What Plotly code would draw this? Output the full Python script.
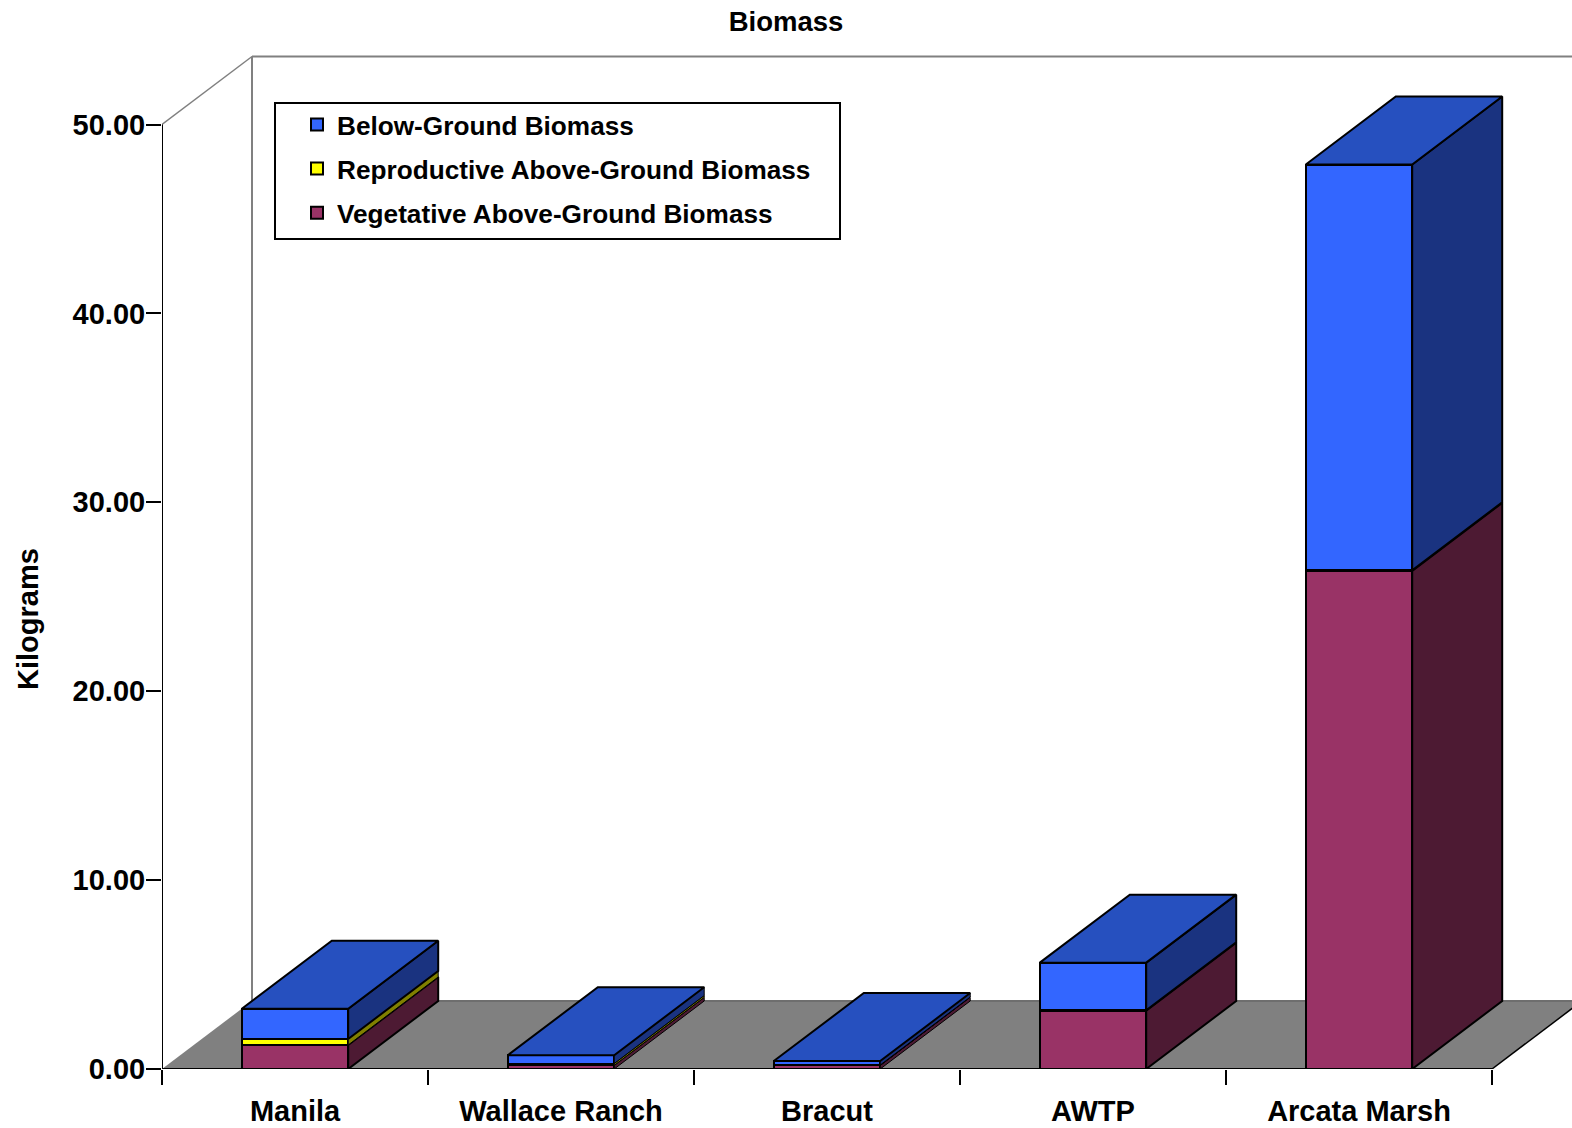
import plotly.graph_objects as go

# Biomass per site, in kilograms
sites = ["Manila", "Wallace Ranch", "Bracut", "AWTP", "Arcata Marsh"]
vegetative = [1.27, 0.19, 0.19, 3.09, 26.37]
reproductive = [0.32, 0.10, 0.02, 0.02, 0.03]
below_ground = [1.60, 0.44, 0.21, 2.52, 21.48]

series = [
    ("Vegetative Above-Ground Biomass", vegetative, "#993366", "#4D1A33", 3),
    ("Reproductive Above-Ground Biomass", reproductive, "#FFFF00", "#808000", 2),
    ("Below-Ground Biomass", below_ground, "#3366FF", "#1A3380", 1),
]
TOP_FACE = "#2650BF"
FLOOR = "#808080"
FONT = "Liberation Sans"

W, H = 1572, 1128
LEFT, TOP, BOTTOM = 162, 50, 1069
PX_PER_SITE = 266.0
PX_PER_KG = 18.89
BAR_WIDTH = 0.4
# Oblique depth of the box, expressed in axis units
DEPTH_X = 90 / PX_PER_SITE
DEPTH_Y = 68 / PX_PER_KG
X0, X1, Y_MAX = -0.5, 4.5, 50

x_pos = list(range(len(sites)))
x_range = [X0, X0 + (W - LEFT) / PX_PER_SITE]
y_range = [0, (BOTTOM - TOP) / PX_PER_KG]


def paper_x(px):
    return (px - LEFT) / (W - LEFT)


def paper_y(py):
    return (BOTTOM - py) / (BOTTOM - TOP)


def face(xs, ys, color, width=2):
    return go.Scatter(
        x=xs, y=ys, mode="lines", fill="toself", fillcolor=color,
        line=dict(color="black", width=width), showlegend=False, hoverinfo="skip",
    )


fig = go.Figure()

# Front faces as stacked bars
for name, values, color, _, rank in series:
    fig.add_trace(go.Bar(
        x=x_pos, y=values, width=BAR_WIDTH, name=name, legendgroup=name,
        legendrank=rank,
        marker=dict(color=color, line=dict(color="black", width=2)),
    ))

# Side faces and lids projected from the same stacked values
for i in x_pos:
    right = i + BAR_WIDTH / 2
    left = i - BAR_WIDTH / 2
    base = 0.0
    for _, values, _, side, _ in series:
        top = base + values[i]
        # Thin layers keep a finer outline so their colour still reads
        outline = 1 if values[i] < 0.5 else 2
        fig.add_trace(face(
            [right, right + DEPTH_X, right + DEPTH_X, right, right],
            [base, base + DEPTH_Y, top + DEPTH_Y, top, base],
            side, outline,
        ))
        base = top
    fig.add_trace(face(
        [left, right, right + DEPTH_X, left + DEPTH_X, left],
        [base, base, base + DEPTH_Y, base + DEPTH_Y, base],
        TOP_FACE,
    ))

shapes = [
    # Floor
    dict(type="path", layer="below", xref="x", yref="y",
         path=f"M{X0},0 L{X1},0 L{X1 + DEPTH_X},{DEPTH_Y} L{X0 + DEPTH_X},{DEPTH_Y} Z",
         fillcolor=FLOOR, line=dict(width=0)),
    # Back edge of the floor
    dict(type="line", layer="below", xref="x", yref="y",
         x0=X0 + DEPTH_X, x1=X1 + DEPTH_X, y0=DEPTH_Y, y1=DEPTH_Y,
         line=dict(color="#6E6E6E", width=2)),
    # Right edge of the floor
    dict(type="line", layer="below", xref="x", yref="y",
         x0=X1, x1=X1 + DEPTH_X, y0=0, y1=DEPTH_Y,
         line=dict(color="black", width=1.5)),
    # Back wall
    dict(type="line", layer="below", xref="x", yref="y",
         x0=X0 + DEPTH_X, x1=X0 + DEPTH_X, y0=DEPTH_Y, y1=Y_MAX + DEPTH_Y,
         line=dict(color="#808080", width=2)),
    dict(type="line", layer="below", xref="x", yref="y",
         x0=X0 + DEPTH_X, x1=x_range[1], y0=Y_MAX + DEPTH_Y, y1=Y_MAX + DEPTH_Y,
         line=dict(color="#808080", width=2)),
    dict(type="line", layer="below", xref="x", yref="y",
         x0=X0, x1=X0 + DEPTH_X, y0=Y_MAX, y1=Y_MAX + DEPTH_Y,
         line=dict(color="#808080", width=1.5)),
    # Axis lines stop at the data extent
    dict(type="line", layer="above", xref="x", yref="y",
         x0=X0, x1=X0, y0=0, y1=Y_MAX, line=dict(color="black", width=2)),
    dict(type="line", layer="above", xref="x", yref="y",
         x0=X0, x1=X1, y0=0, y1=0, line=dict(color="black", width=2)),
    # Legend frame
    dict(type="rect", layer="above", xref="paper", yref="paper",
         x0=paper_x(275), x1=paper_x(840), y0=paper_y(239), y1=paper_y(103),
         fillcolor="white", line=dict(color="black", width=2)),
]

fig.update_layout(
    width=W, height=H, autosize=False,
    margin=dict(l=LEFT, r=0, t=TOP, b=H - BOTTOM, autoexpand=False),
    paper_bgcolor="white", plot_bgcolor="white",
    barmode="stack", bargap=0,
    shapes=shapes,
    font=dict(family=FONT, color="black"),
    title=dict(text="<b>Biomass</b>", font=dict(size=27.5, family=FONT),
               x=786 / W, xref="container", xanchor="center",
               y=1 - 21 / H, yref="container", yanchor="middle"),
    legend=dict(
        x=paper_x(297), xanchor="left",
        y=paper_y(101), yanchor="top",
        traceorder="grouped", tracegroupgap=7,
        itemclick=False, itemdoubleclick=False,
        bgcolor="rgba(0,0,0,0)", borderwidth=0,
        font=dict(size=26.2, family=FONT, weight="bold"),
    ),
    annotations=[dict(
        text="<b>Kilograms</b>", textangle=-90, showarrow=False,
        xref="paper", yref="paper", x=paper_x(28), y=paper_y(619),
        xanchor="center", yanchor="middle",
        font=dict(size=29, family=FONT),
    )],
    xaxis=dict(
        range=x_range, showgrid=False, zeroline=False, showline=False,
        tickmode="array", tickvals=x_pos, ticktext=sites, tickangle=0,
        automargin=False,
        ticks="outside", ticklen=16, tickcolor="rgba(0,0,0,0)",
        tickfont=dict(size=29, family=FONT, weight="bold"),
        minor=dict(
            tickmode="array",
            tickvals=[X0 + k for k in range(len(sites) + 1)],
            ticks="outside", ticklen=15, tickwidth=2, tickcolor="black",
            showgrid=False,
        ),
    ),
    yaxis=dict(
        range=y_range, showgrid=False, zeroline=False, showline=False,
        automargin=False,
        tickmode="array", tickvals=[0, 10, 20, 30, 40, 50],
        tickformat=".2f", ticks="outside", ticklen=15, tickwidth=2,
        tickcolor="black", ticklabelstandoff=-5,
        tickfont=dict(size=29, family=FONT, weight="bold"),
    ),
)

fig.write_html("out.html")
